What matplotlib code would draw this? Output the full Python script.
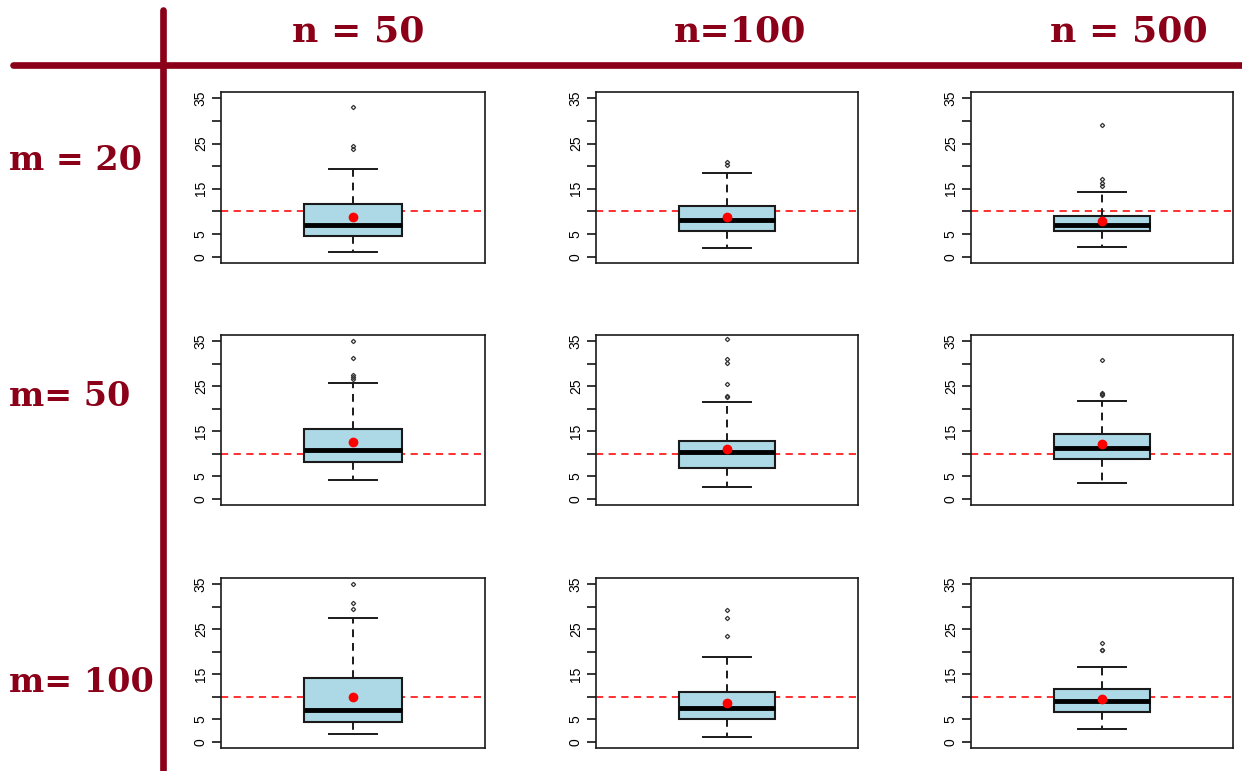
import matplotlib
matplotlib.use("Agg")
import matplotlib.pyplot as plt
from matplotlib.lines import Line2D

# ---- data ----
col_labels = ["n = 50", "n=100", "n = 500"]
row_labels = ["m = 20", "m= 50", "m= 100"]

# rows: m = 20, 50, 100 ; cols: n = 50, 100, 500
q1 = [[4.5, 5.7, 5.6],
      [8.2, 6.8, 8.9],
      [4.4, 5.1, 6.5]]
med = [[7.1, 8.1, 7.1],
       [10.9, 10.3, 11.2],
       [7.0, 7.6, 9.0]]
q3 = [[11.6, 11.3, 9.0],
      [15.4, 12.8, 14.4],
      [14.2, 11.0, 11.8]]
whislo = [[1.0, 1.9, 2.2],
          [4.1, 2.6, 3.4],
          [1.7, 1.0, 2.9]]
whishi = [[19.3, 18.6, 14.2],
          [25.8, 21.6, 21.8],
          [27.5, 18.9, 16.7]]
means = [[8.7, 8.7, 7.8],
         [12.5, 11.1, 12.1],
         [9.9, 8.5, 9.6]]
fliers = [[[33.1, 24.4, 23.8], [20.9, 20.2], [29.2, 17.2, 16.3, 15.7]],
          [[35.0, 31.2, 27.4, 27.0, 26.6], [35.4, 31.1, 30.2, 25.4, 22.8, 22.6], [30.9, 23.5, 23.2, 23.0]],
          [[35.0, 30.9, 29.4], [29.2, 27.5, 23.4], [22.0, 20.5, 20.3]]]
ref_value = 10
yticks = [0, 5, 10, 15, 20, 25, 30, 35]
ytick_labels = ["0", "5", "", "15", "", "25", "", "35"]

DARKRED = "#8B0018"
W, H = 1242, 771
fig = plt.figure(figsize=(W / 100, H / 100), dpi=100)

col_px = [(221, 485), (596, 858), (971, 1233)]
row_px = [(92, 263), (335, 505), (578, 748)]

for i in range(3):
    for j in range(3):
        x0, x1 = col_px[j]
        y0, y1 = row_px[i]
        ax = fig.add_axes([x0 / W, 1 - y1 / H, (x1 - x0) / W, (y1 - y0) / H])
        stats = [dict(med=med[i][j], q1=q1[i][j], q3=q3[i][j],
                      whislo=whislo[i][j], whishi=whishi[i][j],
                      fliers=fliers[i][j], mean=means[i][j])]
        ax.bxp(stats, positions=[0.5], widths=0.37, patch_artist=True,
               showmeans=False, manage_ticks=False,
               boxprops=dict(facecolor="#ADD8E6", edgecolor="#1a1a1a", linewidth=1.5),
               medianprops=dict(color="black", linewidth=3.5, solid_capstyle="butt"),
               whiskerprops=dict(color="#1a1a1a", linewidth=1.4, linestyle=(0, (4, 3))),
               capprops=dict(color="#1a1a1a", linewidth=1.4),
               capwidths=0.185,
               flierprops=dict(marker="D", markersize=2.2, markerfacecolor="none",
                               markeredgecolor="#333333", markeredgewidth=0.9))
        ax.axhline(ref_value, color="#FF2020", linestyle=(0, (4, 3)), linewidth=1.3, zorder=1)
        ax.plot([0.5], [means[i][j]], "o", color="#FF0000", markersize=6, zorder=5)
        ax.set_xlim(0, 1)
        ax.set_ylim(-1.4, 36.4)
        ax.set_xticks([])
        ax.set_yticks(yticks)
        ax.set_yticklabels(ytick_labels, rotation=90, va="center",
                           fontsize=10, family="Liberation Sans")
        ax.tick_params(axis="y", length=6.5, width=1.1, pad=3, direction="out")
        for s in ax.spines.values():
            s.set_linewidth(1.2)
            s.set_color("#1a1a1a")

# header lines
fig.add_artist(Line2D([13 / W, 1.0], [1 - 64.5 / H, 1 - 64.5 / H], color=DARKRED,
                      linewidth=4.8, solid_capstyle="round", transform=fig.transFigure))
fig.add_artist(Line2D([162.5 / W, 162.5 / W], [1 - 10 / H, 0.0], color=DARKRED,
                      linewidth=4.8, solid_capstyle="round", transform=fig.transFigure))

col_cx = [358, 740, 1129]
for lbl, cx in zip(col_labels, col_cx):
    fig.text(cx / W, 1 - 31 / H, lbl, ha="center", va="center", color=DARKRED,
             fontsize=26, fontweight="heavy", family="DejaVu Serif")

row_cy = [160, 397, 682]
for lbl, cy in zip(row_labels, row_cy):
    fig.text(9 / W, 1 - cy / H, lbl, ha="left", va="center", color=DARKRED,
             fontsize=24, fontweight="heavy", family="DejaVu Serif")

fig.savefig("out.png", dpi=100)
